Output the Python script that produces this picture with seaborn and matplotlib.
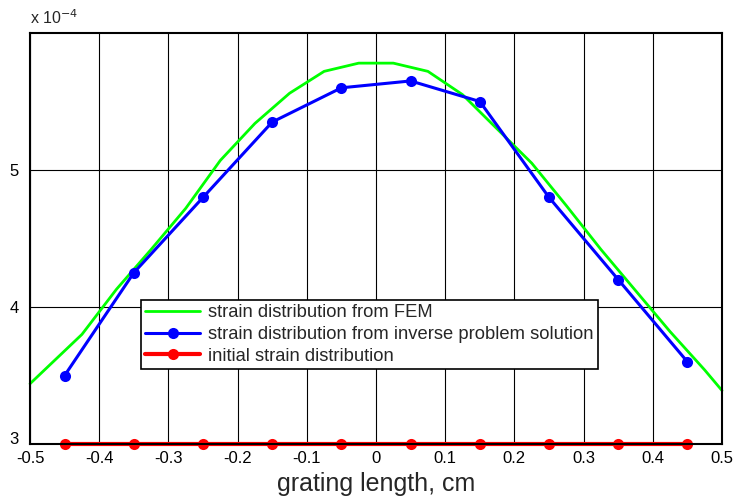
import numpy as np
import pandas as pd
import matplotlib
matplotlib.use("Agg")
import matplotlib.pyplot as plt
import matplotlib.transforms as mtrans
import seaborn as sns

# Data (values in units of 1e-4)
fem_x = [-0.5, -0.475, -0.425, -0.375, -0.325, -0.275, -0.225, -0.175, -0.125, -0.075, -0.025,
         0.025, 0.075, 0.125, 0.175, 0.225, 0.275, 0.325, 0.375, 0.425, 0.475, 0.5]
fem_y = [3.44, 3.56, 3.80, 4.13, 4.42, 4.72, 5.07, 5.34, 5.56, 5.72, 5.78,
         5.78, 5.72, 5.55, 5.30, 5.05, 4.74, 4.42, 4.12, 3.82, 3.54, 3.39]
pts_x = [-0.45, -0.35, -0.25, -0.15, -0.05, 0.05, 0.15, 0.25, 0.35, 0.45]
inv_y = [3.50, 4.25, 4.80, 5.35, 5.60, 5.65, 5.50, 4.80, 4.20, 3.60]
init_y = [3.0, 3.0, 3.0, 3.0, 3.0, 3.0, 3.0, 3.0, 3.0, 3.0]
x_ticks = [-0.5, -0.4, -0.3, -0.2, -0.1, 0, 0.1, 0.2, 0.3, 0.4, 0.5]
x_ticklabels = ["-0.5", "-0.4", "-0.3", "-0.2", "-0.1", "0", "0.1", "0.2", "0.3", "0.4", "0.5"]
y_ticks = [3, 4, 5]
labels = ["strain distribution from FEM",
          "strain distribution from inverse problem solution",
          "initial strain distribution"]

sns.set_style("white")
plt.rcParams['font.family'] = ['Liberation Sans', 'DejaVu Sans']

fig = plt.figure(figsize=(7.36, 5.0), dpi=100)
ax = fig.add_axes([0.0408, 0.112, 0.9402, 0.822])

df_fem = pd.DataFrame({"x": fem_x, "y": fem_y})
df_inv = pd.DataFrame({"x": pts_x, "y": inv_y})
df_init = pd.DataFrame({"x": pts_x, "y": init_y})

sns.lineplot(data=df_fem, x="x", y="y", ax=ax, color="#00ff00", linewidth=2,
             label=labels[0], sort=False, estimator=None)
sns.lineplot(data=df_inv, x="x", y="y", ax=ax, color="#0000ff", linewidth=2.2,
             marker="o", markersize=8, markeredgewidth=0, label=labels[1],
             sort=False, estimator=None)
sns.lineplot(data=df_init, x="x", y="y", ax=ax, color="#ff0000", linewidth=3,
             marker="o", markersize=8, markeredgewidth=0, label=labels[2],
             sort=False, estimator=None)
for line in ax.lines:
    line.set_clip_on(False)

ax.set_xlim(-0.5, 0.5)
ax.set_ylim(3, 6)
ax.set_xticks(x_ticks)
ax.set_xticklabels(x_ticklabels)
ax.set_yticks(y_ticks)
ax.set_yticklabels([str(v) for v in y_ticks])
ax.grid(True, color="black", linewidth=0.8, linestyle="-")
ax.set_axisbelow(True)
for s in ax.spines.values():
    s.set_color("black")
    s.set_linewidth(1.5)
ax.tick_params(axis="x", labelsize=12, length=0, pad=5, colors="black")
ax.tick_params(axis="y", labelsize=12, length=0, pad=8, colors="black")
# lift the lowest y label slightly, as in the reference
lbl3 = ax.get_yticklabels()[0]
lbl3.set_transform(lbl3.get_transform() + mtrans.ScaledTranslation(0, 6 / 100, fig.dpi_scale_trans))
ax.set_xlabel("grating length, cm", fontsize=18, labelpad=4)
ax.set_ylabel("")

fig.text(0.0408, 0.945, "x 10$^{-4}$", fontsize=11.5, ha="left", va="bottom")

leg = ax.legend(loc="lower left", bbox_to_anchor=(0.160, 0.182), fontsize=13.2,
                frameon=True, fancybox=False, edgecolor="black", framealpha=1,
                handlelength=3.0, borderpad=0.25, labelspacing=0.25, handletextpad=0.4,
                borderaxespad=0)
leg.get_frame().set_linewidth(1.2)

fig.savefig("out.png", dpi=100)
